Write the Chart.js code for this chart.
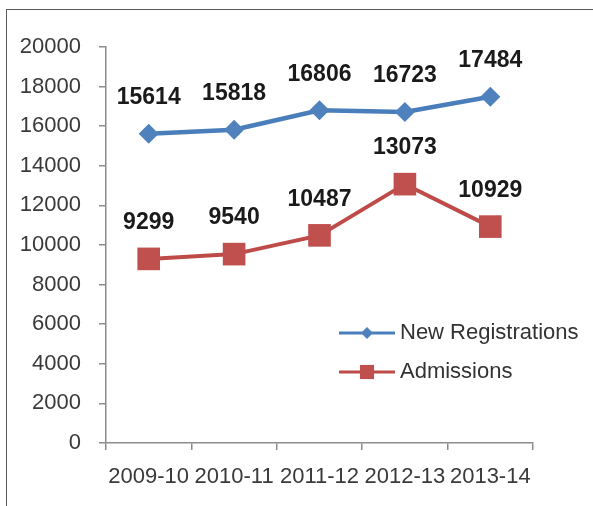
<!DOCTYPE html>
<html>
<head>
<meta charset="utf-8">
<script src="https://cdn.jsdelivr.net/npm/chart.js@4.4.1/dist/chart.umd.min.js"></script>
<style>
  html, body { margin: 0; padding: 0; background: #fff; overflow: hidden; }
  #wrap { position: relative; width: 593px; height: 506px; }
  #frame { position: absolute; left: 6px; top: 9px; width: 700px; height: 600px; border: 1px solid #5a5a5a; }
  canvas { position: absolute; left: 0; top: 0; }
</style>
</head>
<body>
<div id="wrap">
  <div id="frame"></div>
  <canvas id="chart" width="593" height="506"></canvas>
</div>
<script>
// Años y series
const years = ['2009-10', '2010-11', '2011-12', '2012-13', '2013-14'];
const newRegistrations = [15614, 15818, 16806, 16723, 17484];
const admissions = [9299, 9540, 10487, 13073, 10929];
const yTicks = [0, 2000, 4000, 6000, 8000, 10000, 12000, 14000, 16000, 18000, 20000];

const FONT = "'Liberation Sans', Arial, sans-serif";

// Etiquetas de valor encima de cada punto
const valueLabels = {
    id: 'valueLabels',
    afterDatasetsDraw(chart) {
        const ctx = chart.ctx;
        ctx.save();
        ctx.font = 'bold 23px ' + FONT;
        ctx.fillStyle = '#1a1a1a';
        ctx.textAlign = 'center';
        ctx.textBaseline = 'middle';
        chart.data.datasets.forEach((ds, i) => {
            chart.getDatasetMeta(i).data.forEach((pt, j) => {
                ctx.fillText(String(ds.data[j]), pt.x, pt.y - 36);
            });
        });
        ctx.restore();
    }
};

// Leyenda dibujada a mano dentro del área del gráfico
const insideLegend = {
    id: 'insideLegend',
    afterDraw(chart) {
        const ctx = chart.ctx;
        const rows = [{ y: 333, r: 6 }, { y: 372, r: 10 }];
        ctx.save();
        chart.data.datasets.forEach((ds, i) => {
            const y = rows[i].y;
            ctx.strokeStyle = ds.borderColor;
            ctx.lineWidth = 3;
            ctx.beginPath();
            ctx.moveTo(339, y);
            ctx.lineTo(395, y);
            ctx.stroke();
            ctx.fillStyle = ds.pointBackgroundColor;
            Chart.helpers.drawPoint(ctx, {
                pointStyle: ds.pointStyle,
                radius: rows[i].r,
                borderWidth: 0
            }, 367, y);
            ctx.fillStyle = '#333';
            ctx.font = '22px ' + FONT;
            ctx.textAlign = 'left';
            ctx.textBaseline = 'middle';
            ctx.fillText(ds.label, 400, y);
        });
        ctx.restore();
    }
};

const ctx = document.getElementById('chart').getContext('2d');
new Chart(ctx, {
    type: 'line',
    data: {
        labels: years,
        datasets: [{
            label: 'New Registrations',
            data: newRegistrations,
            borderColor: '#4a7ebb',
            borderWidth: 4.5,
            pointStyle: 'rectRot',
            pointRadius: 10,
            pointBackgroundColor: '#4f81bd',
            pointBorderWidth: 0,
            tension: 0
        }, {
            label: 'Admissions',
            data: admissions,
            borderColor: '#be4b48',
            borderWidth: 4,
            pointStyle: 'rect',
            pointRadius: 16,
            pointBackgroundColor: '#c0504d',
            pointBorderWidth: 0,
            tension: 0
        }]
    },
    options: {
        responsive: false,
        animation: false,
        layout: {
            padding: { top: 47, right: 60, left: 0, bottom: 0 }
        },
        scales: {
            x: {
                offset: true,
                grid: {
                    offset: true,
                    drawOnChartArea: false,
                    tickLength: 7,
                    color: '#8c8c8c',
                    lineWidth: 1.5
                },
                border: { color: '#8c8c8c', width: 1.5 },
                ticks: {
                    font: { family: FONT, size: 22 },
                    color: '#3a3a3a',
                    padding: 14,
                    maxRotation: 0,
                    autoSkip: false
                },
                afterFit(scale) { scale.height = 63; }
            },
            y: {
                min: 0,
                max: 20000,
                afterBuildTicks(scale) {
                    scale.ticks = yTicks.map(v => ({ value: v }));
                },
                grid: {
                    drawOnChartArea: false,
                    tickLength: 7,
                    color: '#8c8c8c',
                    lineWidth: 1.5
                },
                border: { color: '#8c8c8c', width: 1.5 },
                ticks: {
                    font: { family: FONT, size: 22 },
                    color: '#3a3a3a',
                    padding: 18,
                    callback: function(value) { return String(value); }
                },
                afterFit(scale) { scale.width = 106; }
            }
        },
        plugins: {
            legend: { display: false },
            tooltip: { enabled: false }
        }
    },
    plugins: [valueLabels, insideLegend]
});
</script>
</body>
</html>
